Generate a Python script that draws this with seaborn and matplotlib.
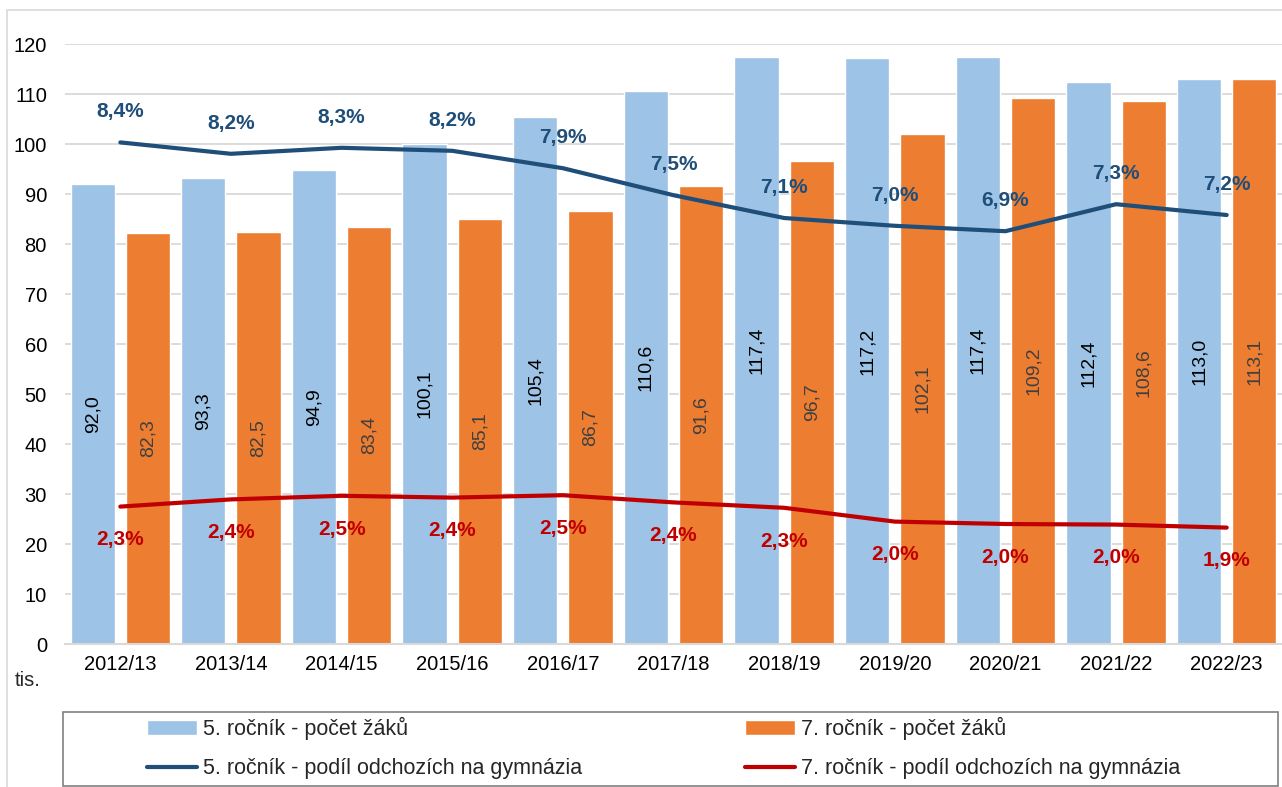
import matplotlib
matplotlib.use("Agg")
import matplotlib.pyplot as plt
from matplotlib.patches import Patch, Rectangle
from matplotlib.lines import Line2D
import seaborn as sns
import pandas as pd
import numpy as np

# data
years = ["2012/13", "2013/14", "2014/15", "2015/16", "2016/17", "2017/18",
         "2018/19", "2019/20", "2020/21", "2021/22", "2022/23"]
zaci_5 = [92.0, 93.3, 94.9, 100.1, 105.4, 110.6, 117.4, 117.2, 117.4, 112.4, 113.0]
zaci_7 = [82.3, 82.5, 83.4, 85.1, 86.7, 91.6, 96.7, 102.1, 109.2, 108.6, 113.1]
podil_5 = [8.36, 8.17, 8.27, 8.22, 7.93, 7.48, 7.10, 6.97, 6.88, 7.33, 7.15]
podil_7 = [2.29, 2.41, 2.47, 2.44, 2.48, 2.36, 2.27, 2.04, 2.00, 1.99, 1.94]

ser_5 = "5. ročník - počet žáků"
ser_7 = "7. ročník - počet žáků"
line_5 = "5. ročník - podíl odchozích na gymnázia"
line_7 = "7. ročník - podíl odchozích na gymnázia"

c_bar5 = "#9DC3E6"
c_bar7 = "#ED7D31"
c_line5 = "#1F4E79"
c_line7 = "#C00000"
grid_c = "#D9D9D9"

sns.set_style("white")
plt.rcParams["font.family"] = ["Liberation Sans", "DejaVu Sans"]

df = pd.DataFrame({
    "rok": years * 2,
    "pocet": zaci_5 + zaci_7,
    "serie": [ser_5] * len(years) + [ser_7] * len(years),
})

def fmt(v):
    return f"{v:.1f}".replace(".", ",")

fig = plt.figure(figsize=(12.82, 7.87), dpi=100)
ax = fig.add_axes([65 / 1282, 1 - 644 / 787, 1217 / 1282, 600 / 787])

sns.barplot(data=df, x="rok", y="pocet", hue="serie", order=years,
            hue_order=[ser_5, ser_7], palette=[c_bar5, c_bar7],
            width=1.0, gap=0.2, saturation=1, legend=False, ax=ax)

for cont, vals, col in zip(ax.containers, [zaci_5, zaci_7], ["black", "#404040"]):
    ax.bar_label(cont, labels=[fmt(v) for v in vals], label_type="center",
                 rotation=90, fontsize=14, color=col)

ax.set_xlim(-0.5, 10.5)
ax.set_ylim(0, 120)
ax.set_yticks(range(0, 121, 10))
ax.yaxis.grid(True, color=grid_c, linewidth=1.3)
ax.set_axisbelow(True)
for s in ["top", "right", "left"]:
    ax.spines[s].set_visible(False)
ax.spines["bottom"].set_color(grid_c)
ax.spines["bottom"].set_linewidth(1.5)
ax.tick_params(axis="both", length=0, labelsize=14.5, colors="black")
ax.tick_params(axis="y", pad=13)
ax.tick_params(axis="x", pad=8)
ax.set_xlabel("")
ax.set_ylabel("")

# secondary axis for shares (0-10 %)
ax2 = ax.twinx()
x_pos = np.arange(len(years))
sns.lineplot(x=x_pos, y=podil_5, color=c_line5, linewidth=3, ax=ax2, legend=False)
sns.lineplot(x=x_pos, y=podil_7, color=c_line7, linewidth=3, ax=ax2, legend=False)
ax2.set_ylim(0, 10)
ax2.set_xlim(-0.5, 10.5)
ax2.axis("off")

for x, v in zip(x_pos, podil_5):
    ax2.annotate(fmt(v) + "%", (x, v), xytext=(0, 22), textcoords="offset points",
                 ha="center", va="center", fontsize=15, fontweight="bold", color=c_line5)
for x, v in zip(x_pos, podil_7):
    ax2.annotate(fmt(v) + "%", (x, v), xytext=(0, -24), textcoords="offset points",
                 ha="center", va="center", fontsize=15, fontweight="bold", color=c_line7)

fig.text(28 / 1282, 1 - 681 / 787, "tis.", fontsize=14.5, ha="center", va="center")

# chart frame and legend box
fig.patches.append(Rectangle((7 / 1282, -0.02), 1.02, 1 - 10 / 787 + 0.02,
                             transform=fig.transFigure, fill=False,
                             edgecolor=grid_c, linewidth=1.2, zorder=0))
fig.patches.append(Rectangle((63 / 1282, 1 - 786 / 787), (1278 - 63) / 1282, 74 / 787,
                             transform=fig.transFigure, fill=False,
                             edgecolor="#808080", linewidth=1.2, zorder=0))

handles = [
    Patch(facecolor=c_bar5, label=ser_5),
    Line2D([0], [0], color=c_line5, linewidth=3, label=line_5),
    Patch(facecolor=c_bar7, label=ser_7),
    Line2D([0], [0], color=c_line7, linewidth=3, label=line_7),
]
fig.legend(handles=handles, ncol=2, loc="center left",
           bbox_to_anchor=(128 / 1282, 1 - 748 / 787), frameon=False,
           fontsize=15.5, handlelength=2.3, handleheight=0.75, handletextpad=0.3,
           columnspacing=7.55, labelspacing=0.85)

fig.savefig("out.png", dpi=100)
